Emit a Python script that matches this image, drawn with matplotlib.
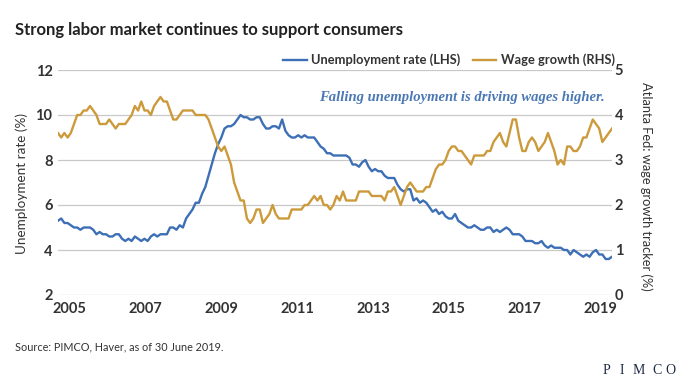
import matplotlib
matplotlib.use("Agg")
import matplotlib.pyplot as plt
from matplotlib.lines import Line2D
import numpy as np

#--------------------------------------------------------------------
# DATA (monthly, Jan 2005 - Jun 2019)
#--------------------------------------------------------------------
YEAR_LABELS = ["2005", "2007", "2009", "2011", "2013", "2015", "2017", "2019"]

UNEMPLOYMENT = [
    5.3, 5.4, 5.2, 5.2, 5.1, 5.0, 5.0, 4.9, 5.0, 5.0, 5.0, 4.9,   # 2005
    4.7, 4.8, 4.7, 4.7, 4.6, 4.6, 4.7, 4.7, 4.5, 4.4, 4.5, 4.4,   # 2006
    4.6, 4.5, 4.4, 4.5, 4.4, 4.6, 4.7, 4.6, 4.7, 4.7, 4.7, 5.0,   # 2007
    5.0, 4.9, 5.1, 5.0, 5.4, 5.6, 5.8, 6.1, 6.1, 6.5, 6.8, 7.3,   # 2008
    7.8, 8.3, 8.7, 9.0, 9.4, 9.5, 9.5, 9.6, 9.8, 10.0, 9.9, 9.9,  # 2009
    9.8, 9.8, 9.9, 9.9, 9.6, 9.4, 9.4, 9.5, 9.5, 9.4, 9.8, 9.3,   # 2010
    9.1, 9.0, 9.0, 9.1, 9.0, 9.1, 9.0, 9.0, 9.0, 8.8, 8.6, 8.5,   # 2011
    8.3, 8.3, 8.2, 8.2, 8.2, 8.2, 8.2, 8.1, 7.8, 7.8, 7.7, 7.9,   # 2012
    8.0, 7.7, 7.5, 7.6, 7.5, 7.5, 7.3, 7.2, 7.2, 7.2, 6.9, 6.7,   # 2013
    6.6, 6.7, 6.7, 6.2, 6.3, 6.1, 6.2, 6.1, 5.9, 5.7, 5.8, 5.6,   # 2014
    5.7, 5.5, 5.4, 5.4, 5.6, 5.3, 5.2, 5.1, 5.0, 5.0, 5.1, 5.0,   # 2015
    4.9, 4.9, 5.0, 5.0, 4.8, 4.9, 4.8, 4.9, 5.0, 4.9, 4.7, 4.7,   # 2016
    4.7, 4.6, 4.4, 4.4, 4.4, 4.3, 4.3, 4.4, 4.2, 4.1, 4.2, 4.1,   # 2017
    4.1, 4.1, 4.0, 4.0, 3.8, 4.0, 3.9, 3.8, 3.7, 3.8, 3.7, 3.9,   # 2018
    4.0, 3.8, 3.8, 3.6, 3.6, 3.7,                                 # 2019
]

WAGE_GROWTH = [
    3.6, 3.5, 3.6, 3.5, 3.6, 3.8, 4.0, 4.0, 4.1, 4.1, 4.2, 4.1,   # 2005
    4.0, 3.8, 3.8, 3.8, 3.9, 3.8, 3.7, 3.8, 3.8, 3.8, 3.9, 4.0,   # 2006
    4.2, 4.1, 4.3, 4.1, 4.1, 4.0, 4.2, 4.3, 4.4, 4.3, 4.3, 4.1,   # 2007
    3.9, 3.9, 4.0, 4.1, 4.1, 4.1, 4.1, 4.0, 4.0, 4.0, 4.0, 3.9,   # 2008
    3.7, 3.5, 3.3, 3.2, 3.3, 3.1, 2.9, 2.5, 2.3, 2.1, 2.1, 1.7,   # 2009
    1.6, 1.7, 1.9, 1.9, 1.6, 1.7, 1.8, 2.0, 1.8, 1.7, 1.7, 1.7,   # 2010
    1.7, 1.9, 1.9, 1.9, 1.9, 2.0, 2.0, 2.1, 2.2, 2.1, 2.2, 2.0,   # 2011
    2.0, 1.9, 2.0, 2.2, 2.1, 2.3, 2.1, 2.1, 2.1, 2.1, 2.3, 2.3,   # 2012
    2.3, 2.3, 2.2, 2.2, 2.2, 2.2, 2.1, 2.3, 2.3, 2.4, 2.2, 2.0,   # 2013
    2.2, 2.4, 2.5, 2.4, 2.3, 2.3, 2.3, 2.4, 2.4, 2.6, 2.8, 2.9,   # 2014
    2.9, 3.0, 3.2, 3.3, 3.3, 3.2, 3.2, 3.1, 3.0, 2.9, 3.1, 3.1,   # 2015
    3.1, 3.1, 3.2, 3.2, 3.4, 3.5, 3.6, 3.4, 3.3, 3.6, 3.9, 3.9,   # 2016
    3.5, 3.2, 3.2, 3.4, 3.5, 3.4, 3.2, 3.3, 3.4, 3.6, 3.4, 3.2,   # 2017
    2.9, 3.0, 2.9, 3.3, 3.3, 3.2, 3.2, 3.3, 3.5, 3.5, 3.7, 3.9,   # 2018
    3.8, 3.7, 3.4, 3.5, 3.6, 3.7,                                 # 2019
]

#--------------------------------------------------------------------
# STYLE
#--------------------------------------------------------------------
SANS = ["Lato", "DejaVu Sans"]
SERIF = ["Liberation Serif", "DejaVu Serif"]
BLUE = "#3d6fb6"
GOLD = "#cc9a3b"
TEXT = "#333333"
GRID = "#c8c8c8"

W, H = 680, 383

def fx(px):
    return px / W

def fy(py):
    return 1 - py / H

if __name__ == "__main__":
    plt.rcParams["font.family"] = SANS
    months = np.arange(len(UNEMPLOYMENT))

    fig = plt.figure(figsize=(6.8, 3.83), dpi=100)
    ax = fig.add_axes([fx(58), fy(295), fx(612) - fx(58), fy(70) - fy(295)])
    ax2 = ax.twinx()

    ax.plot(months, UNEMPLOYMENT, color=BLUE, lw=1.7, solid_joinstyle="round")
    ax2.plot(months, WAGE_GROWTH, color=GOLD, lw=1.7, solid_joinstyle="round")

    ax.set_xlim(0, len(UNEMPLOYMENT) - 1)
    ax.set_ylim(2, 12)
    ax2.set_ylim(0, 5)
    ax.set_yticks(np.arange(2, 13, 2))
    ax2.set_yticks(np.arange(0, 6, 1))
    ax.set_xticks(np.linspace(3.7, 169.4, len(YEAR_LABELS)))
    ax.set_xticklabels(YEAR_LABELS)

    ax.grid(axis="y", color=GRID, lw=0.9)
    ax.set_axisbelow(True)
    for a in (ax, ax2):
        for s in a.spines.values():
            s.set_visible(False)
    ax.tick_params(axis="both", length=0, labelsize=10.5, labelcolor=TEXT)
    ax.tick_params(axis="y", pad=4)
    ax.tick_params(axis="x", pad=5)
    ax2.tick_params(axis="y", length=0, labelsize=10.5, labelcolor=TEXT, pad=2)
    for lbl in ax.get_xticklabels() + ax.get_yticklabels() + ax2.get_yticklabels():
        lbl.set_fontweight("bold")

    # titles and labels
    fig.text(fx(15), fy(30), "Strong labor market continues to support consumers",
             fontsize=12, fontweight="bold", color="#222222", va="center")
    fig.text(fx(22), fy(183), "Unemployment rate (%)", rotation=90,
             fontsize=9.7, color=TEXT, ha="center", va="center")
    fig.text(fx(646), fy(186), "Atlanta Fed: wage growth tracker (%)", rotation=270,
             fontsize=9.3, color=TEXT, ha="center", va="center")

    handles = [
        Line2D([], [], color=BLUE, lw=1.7),
        Line2D([], [], color=GOLD, lw=1.7),
    ]
    leg = fig.legend(handles, ["Unemployment rate (LHS)", "Wage growth (RHS)"],
                     loc="center right", bbox_to_anchor=(fx(615), fy(60)),
                     ncol=2, frameon=False, borderaxespad=0, borderpad=0,
                     handlelength=1.8, handletextpad=0.35, columnspacing=1.0,
                     prop={"size": 9.3, "weight": "bold"})
    for t in leg.get_texts():
        t.set_color(TEXT)

    fig.text(fx(605), fy(97), "Falling unemployment is driving wages higher.",
             family=SERIF, style="italic", fontweight="bold", fontsize=10.5,
             color="#4a78b4", ha="right", va="center")

    fig.text(fx(15), fy(347), "Source: PIMCO, Haver, as of 30 June 2019.",
             fontsize=7.8, color=TEXT, va="center")

    for letter, px in zip("PIMCO", [606, 621.5, 638.5, 657, 670]):
        fig.text(fx(px), fy(371), letter, family=SERIF, fontsize=10,
                 color="#1f2a44", ha="center", va="center")

    plt.savefig("out.png", dpi=100)
    plt.close()
